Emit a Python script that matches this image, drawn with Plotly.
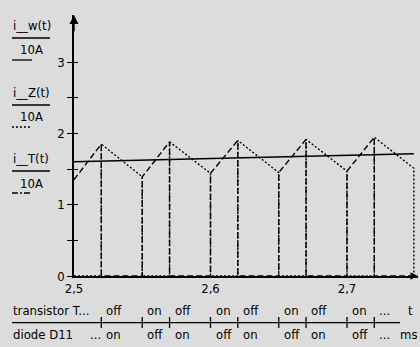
import plotly.graph_objects as go

# ---- data ----
t_on = [2.50, 2.55, 2.60, 2.65, 2.70]          # transistor switches on (valleys)
i_valley = [1.35, 1.39, 1.44, 1.45, 1.47]
t_off = [2.52, 2.57, 2.62, 2.67, 2.72]         # transistor switches off (peaks)
i_peak = [1.85, 1.88, 1.90, 1.915, 1.945]
t_end = 2.749
i_end = 1.51
t_w = [2.50, 2.749]
i_w = [1.60, 1.715]

x_tickvals = [2.5, 2.6, 2.7]
x_ticktext = ["2,5", "2,6", "2,7"]
y_tickvals = [0, 0.5, 1, 1.5, 2, 2.5, 3]
y_ticktext = ["0", "", "1", "", "2", "", "3"]

row_transistor = ["off", "on", "off", "on", "off", "on", "off", "on", "..."]
row_diode = ["on", "off", "on", "off", "on", "off", "on", "off", "..."]

FONT = "DejaVu Sans Condensed"
BG = "#dcdcdc"

# ---- build current traces ----
tT, iT = [], []
tZ, iZ = [2.5], [0]
for k in range(5):
    nxt = t_on[k + 1] if k < 4 else t_end
    tT += [t_on[k], t_off[k], t_off[k], nxt]
    iT += [i_valley[k], i_peak[k], 0, 0]
    nv = i_valley[k + 1] if k < 4 else i_end
    tZ += [t_off[k], t_off[k], nxt, nxt]
    iZ += [0, i_peak[k], nv, 0]

fig = go.Figure()
fig.add_trace(go.Scatter(x=t_w, y=i_w, mode="lines",
                         line=dict(color="black", width=1.5)))
fig.add_trace(go.Scatter(x=tZ, y=iZ, mode="lines",
                         line=dict(color="black", width=1.4, dash="2px,2px")))
fig.add_trace(go.Scatter(x=tT, y=iT, mode="lines",
                         line=dict(color="black", width=1.4, dash="6px,3px")))
# invisible trace to hold the inside half of the crossing y ticks
fig.add_trace(go.Scatter(x=[2.5], y=[0], yaxis="y2", mode="markers",
                         marker=dict(opacity=0), hoverinfo="skip"))

x0, x1 = 74 / 420, 418 / 420
y0, y1 = 71 / 347, 332 / 347
xr = [2.5, 2.5 + 344 / 1365]
yr = [0, 261 / 71.33]

FS = 13

fig.update_layout(
    width=420, height=347, autosize=False,
    margin=dict(l=0, r=0, t=0, b=0, autoexpand=False),
    paper_bgcolor=BG, plot_bgcolor=BG,
    showlegend=False,
    font=dict(family=FONT, size=12, color="black"),
    xaxis=dict(domain=[x0, x1], range=xr, showgrid=False, zeroline=False,
               automargin=False,
               showline=True, linecolor="black", linewidth=1.5,
               tickvals=x_tickvals, ticktext=x_ticktext, ticks="",
               tickfont=dict(family=FONT, size=FS)),
    yaxis=dict(domain=[y0, y1], range=yr, showgrid=False, zeroline=False,
               automargin=False,
               showline=True, linecolor="black", linewidth=1.5,
               tickvals=y_tickvals, ticktext=y_ticktext, ticks="outside",
               ticklen=5, tickwidth=1.2, tickcolor="black",
               tickfont=dict(family=FONT, size=FS)),
    yaxis2=dict(domain=[y0, y1], range=yr, overlaying="y", anchor="x",
                automargin=False,
                side="left", showgrid=False, zeroline=False, showline=False,
                tickvals=y_tickvals, ticks="inside", ticklen=4, tickwidth=1.2,
                tickcolor="black", showticklabels=False),
)

shapes = []
annotations = []

# axis arrows
annotations.append(dict(x=2.5, y=yr[1], ax=2.5, ay=yr[1] - 0.25, xref="x", yref="y",
                        axref="x", ayref="y", showarrow=True, arrowhead=2,
                        arrowsize=1.2, arrowwidth=1.5, arrowcolor="black", text=""))
annotations.append(dict(x=xr[1], y=0, ax=xr[1] - 0.004, ay=0, xref="x", yref="y",
                        axref="x", ayref="y", showarrow=True, arrowhead=2,
                        arrowsize=1.0, arrowwidth=1.5, arrowcolor="black", text=""))

def py(px):
    return 1 - px / 347

def pxx(px):
    return px / 420

# left legend: label / fraction line / 10A / line sample
legend_items = [("i__w(t)", 25, None), ("i__Z(t)", 92, "2px,2px"), ("i__T(t)", 158, "6px,2px,2px,2px")]
for txt, ytop, dash in legend_items:
    annotations.append(dict(x=pxx(11), y=py(ytop), xref="paper", yref="paper",
                            text=txt, showarrow=False, xanchor="left", yanchor="middle",
                            font=dict(family=FONT, size=FS)))
    shapes.append(dict(type="line", xref="paper", yref="paper",
                       x0=pxx(12), x1=pxx(50), y0=py(ytop + 13), y1=py(ytop + 13),
                       line=dict(color="black", width=1.3)))
    annotations.append(dict(x=pxx(31), y=py(ytop + 25), xref="paper", yref="paper",
                            text="10A", showarrow=False, xanchor="center", yanchor="middle",
                            font=dict(family=FONT, size=FS)))
    shapes.append(dict(type="line", xref="paper", yref="paper",
                       x0=pxx(12), x1=pxx(32), y0=py(ytop + 35), y1=py(ytop + 35),
                       line=dict(color="black", width=1.3, dash=dash if dash else "solid")))

# state table
sw = sorted(t_off + t_on[1:])
y_top_row, y_bot_row, y_sep = py(310), py(334), py(322.7)
shapes.append(dict(type="line", xref="paper", yref="paper",
                   x0=pxx(12), x1=pxx(400), y0=y_sep, y1=y_sep,
                   line=dict(color="black", width=1.3)))
for t in sw:
    shapes.append(dict(type="line", xref="x", yref="paper", x0=t, x1=t,
                       y0=py(317), y1=py(328), line=dict(color="black", width=1.3)))
annotations.append(dict(x=pxx(11), y=y_top_row, xref="paper", yref="paper",
                        text="transistor T...", showarrow=False, xanchor="left",
                        yanchor="middle", font=dict(family=FONT, size=FS)))
annotations.append(dict(x=pxx(11), y=y_bot_row, xref="paper", yref="paper",
                        text="diode D11", showarrow=False, xanchor="left",
                        yanchor="middle", font=dict(family=FONT, size=FS)))
annotations.append(dict(x=pxx(88), y=y_bot_row, xref="paper", yref="paper",
                        text="...", showarrow=False, xanchor="left",
                        yanchor="middle", font=dict(family=FONT, size=FS)))
for t, a, b in zip(sw, row_transistor, row_diode):
    annotations.append(dict(x=t, y=y_top_row, xref="x", yref="paper", text=a,
                            showarrow=False, xanchor="left", xshift=3, yanchor="middle",
                            font=dict(family=FONT, size=FS)))
    annotations.append(dict(x=t, y=y_bot_row, xref="x", yref="paper", text=b,
                            showarrow=False, xanchor="left", xshift=3, yanchor="middle",
                            font=dict(family=FONT, size=FS)))
annotations.append(dict(x=pxx(410), y=y_top_row, xref="paper", yref="paper",
                        text="t", showarrow=False, xanchor="center", yanchor="middle",
                        font=dict(family=FONT, size=FS)))
annotations.append(dict(x=pxx(420), y=y_bot_row, xref="paper", yref="paper",
                        text="ms", showarrow=False, xanchor="right", yanchor="middle",
                        font=dict(family=FONT, size=FS)))

fig.update_layout(shapes=shapes, annotations=annotations)
fig.write_html("out.html", config={"displayModeBar": False},
               post_script="document.body.style.margin='0';document.body.style.overflow='hidden';")
